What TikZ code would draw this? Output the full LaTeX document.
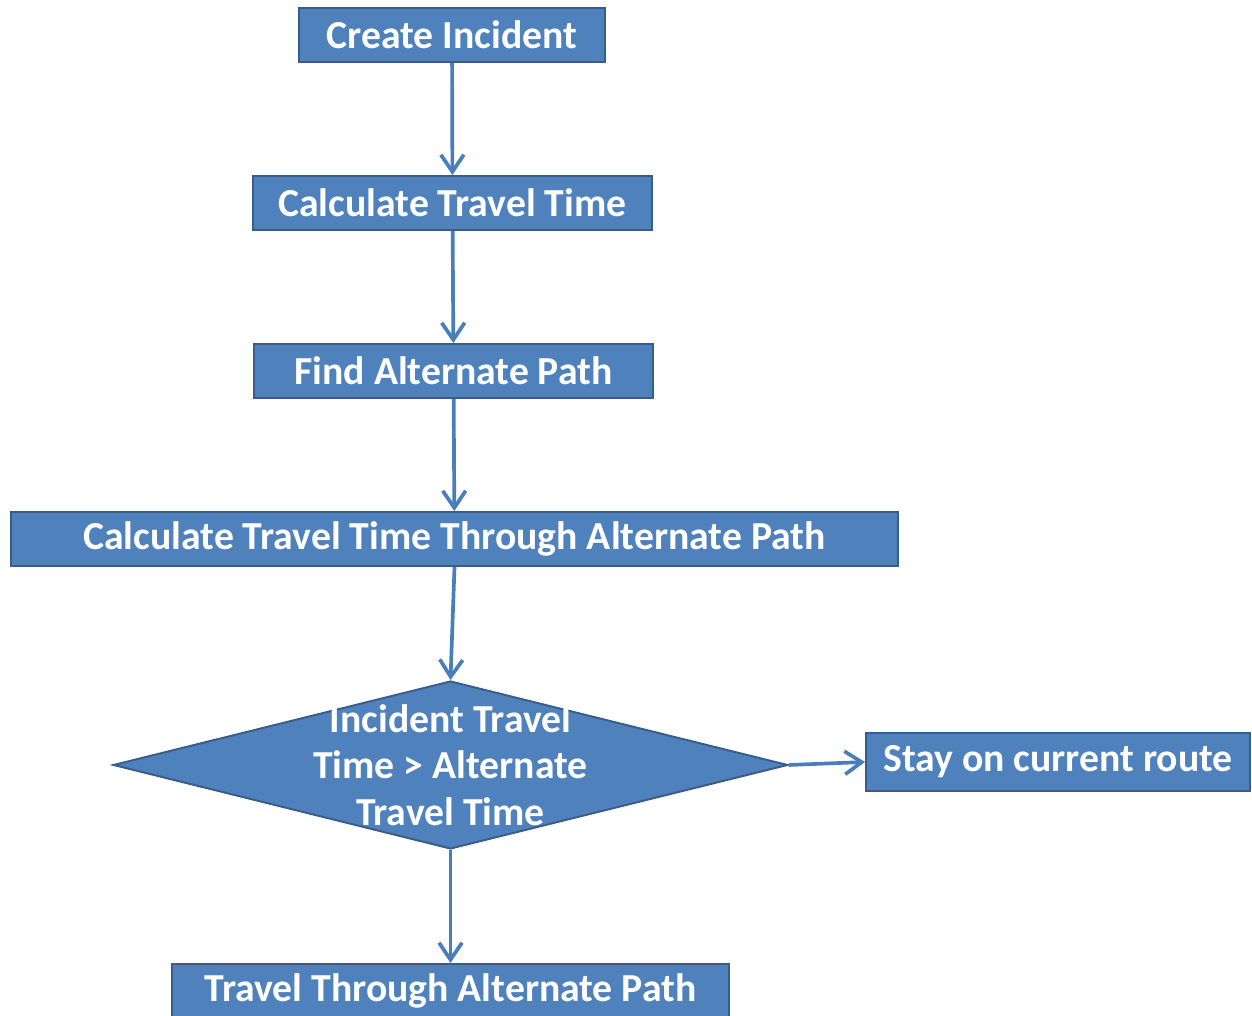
\documentclass[tikz,border=0pt]{standalone}
\usepackage{fontspec}
\setmainfont{Carlito}
\usepackage{tikz}
\usetikzlibrary{arrows.meta,shapes.geometric}
\definecolor{stepblue}{HTML}{4F81BD}
\definecolor{stepedge}{HTML}{385D8A}
\definecolor{flowblue}{HTML}{4A7EBB}

\begin{document}
\begin{tikzpicture}[
    x=0.02cm, y=0.02cm,
    procbox/.style={rectangle, fill=stepblue, draw=stepedge, line width=1.1pt, minimum height=1.08cm, inner sep=0pt, text=white, font=\fontsize{22.6}{27}\selectfont\bfseries},
    decision/.style={diamond, fill=stepblue, draw=stepedge, line width=1.1pt, minimum width=13.5cm, minimum height=3.36cm, inner sep=0pt},
    dtext/.style={text=white, align=center, font=\fontsize{22.6}{26.6}\selectfont\bfseries},
    flow/.style={-{Straight Barb[length=0.34cm, width=0.46cm, line width=2.1pt]}, line width=2.1pt, flowblue}
]
\useasboundingbox (0,0) rectangle (1252,1016);

% Boxes
\node[procbox, minimum width=6.12cm] (create) at (452,981) {Create Incident};
\node[procbox, minimum width=7.98cm] (calc) at (452.5,813) {Calculate Travel Time};
\node[procbox, minimum width=7.98cm] (find) at (453.5,645) {Find Alternate Path};
\node[procbox, minimum width=17.74cm] (calcalt) at (454.5,477) {Calculate Travel Time Through Alternate Path};
\node[decision, label={[dtext]center:{Incident Travel\\Time > Alternate\\Travel Time}}] (test) at (450.5,251) {};
\node[procbox, minimum width=7.68cm, minimum height=1.16cm] (stay) at (1058,254) {Stay on current route};
\node[procbox, minimum width=11.14cm] (travel) at (450.5,25) {Travel Through Alternate Path};

% Arrows
\draw[flow] (create) -- (calc);
\draw[flow] (calc) -- (find);
\draw[flow] (find) -- (calcalt);
\draw[flow] (calcalt.south) -- (test.north);
\draw[flow] (test.east) -- (stay.west);
\draw[flow] (test.south) -- (travel.north);
\end{tikzpicture}
\end{document}
